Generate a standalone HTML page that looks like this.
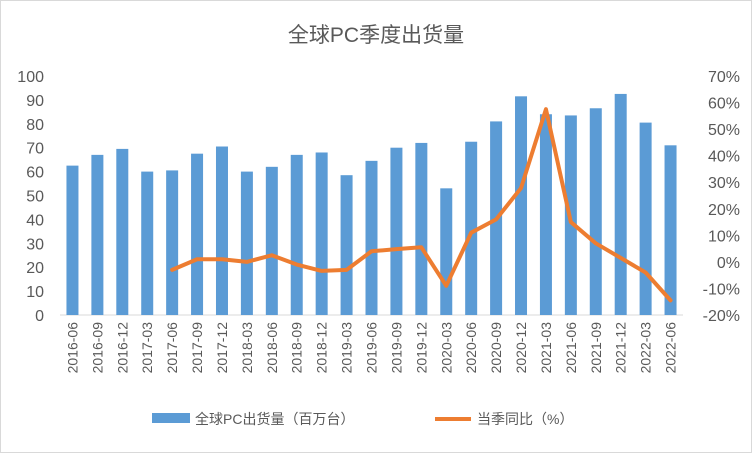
<!DOCTYPE html>
<html><head><meta charset="utf-8"><style>
body{margin:0;background:#fff;}
svg{display:block;font-family:"Liberation Sans","Noto Sans CJK SC",sans-serif;}
</style></head><body>
<svg id="chart" width="752" height="453">
<rect x="0.5" y="0.5" width="751" height="452" fill="#fff" stroke="#d9d9d9"/>
<text x="376" y="42" text-anchor="middle" font-size="21" fill="#595959">全球PC季度出货量</text>
<g id="plot"></g>
<g>
<rect x="152" y="413" width="38" height="10" fill="#5b9bd5"/>
<text x="195" y="424" font-size="14" fill="#595959">全球PC出货量（百万台）</text>
<line x1="435" y1="419" x2="471" y2="419" stroke="#ed7d31" stroke-width="4"/>
<text x="477" y="424" font-size="14" fill="#595959">当季同比（%）</text>
</g>
</svg>
<script>
const categories=["2016-06","2016-09","2016-12","2017-03","2017-06","2017-09","2017-12","2018-03","2018-06","2018-09","2018-12","2019-03","2019-06","2019-09","2019-12","2020-03","2020-06","2020-09","2020-12","2021-03","2021-06","2021-09","2021-12","2022-03","2022-06"];
const shipments=[62.5,67,69.5,60,60.5,67.5,70.5,60,62,67,68,58.5,64.5,70,72,53,72.5,81,91.5,84,83.5,86.5,92.5,80.5,71];
const yoy=[null,null,null,null,-3,1,1,0,2.5,-1,-3.4,-3,4,4.8,5.5,-9,11,16,27.8,57.5,15,7,1.5,-4,-14.5];
const leftTicks=[0,10,20,30,40,50,60,70,80,90,100];
const rightTicks=[-20,-10,0,10,20,30,40,50,60,70];

const NS="http://www.w3.org/2000/svg";
const g=document.getElementById('plot');
const X0=60,X1=683,Y0=315,Y1=76;
const step=(X1-X0)/categories.length;
const xc=i=>X0+step*(i+0.5);
const yL=v=>Y0-(v-0)/100*(Y0-Y1);
const yR=v=>Y0-(v+20)/90*(Y0-Y1);
function mk(t,a){const e=document.createElementNS(NS,t);for(const k in a)e.setAttribute(k,a[k]);g.appendChild(e);return e;}

const axis=mk('line',{x1:X0,y1:Y0,x2:X1,y2:Y0,stroke:'#d9d9d9'});



leftTicks.forEach(v=>{
 const t=mk('text',{x:44,y:yL(v)+6,'text-anchor':'end','font-size':16,fill:'#595959'});
 t.textContent=v;
 
 
});
rightTicks.forEach(v=>{
 const t=mk('text',{x:740,y:yR(v)+6,'text-anchor':'end','font-size':16,fill:'#595959'});
 t.textContent=v+'%';
 
 
});
const bw=12;
shipments.forEach((v,i)=>{
 const r=mk('rect',{x:xc(i)-bw/2,y:yL(v),width:bw,height:Y0-yL(v),fill:'#5b9bd5'});
 
 
});
categories.forEach((c,i)=>{
 const x=xc(i)+5,y=322;
 const t=mk('text',{x:x,y:y,'text-anchor':'end','font-size':14,fill:'#595959',transform:`rotate(-90 ${x} ${y})`});
 t.textContent=c;
 
 
});
let d='';
yoy.forEach((v,i)=>{if(v===null)return;d+=(d?'L':'M')+xc(i)+' '+yR(v);});
const p=mk('path',{d:d,fill:'none',stroke:'#ed7d31','stroke-width':4,'stroke-linejoin':'round','stroke-linecap':'round'});


</script>
</body></html>
